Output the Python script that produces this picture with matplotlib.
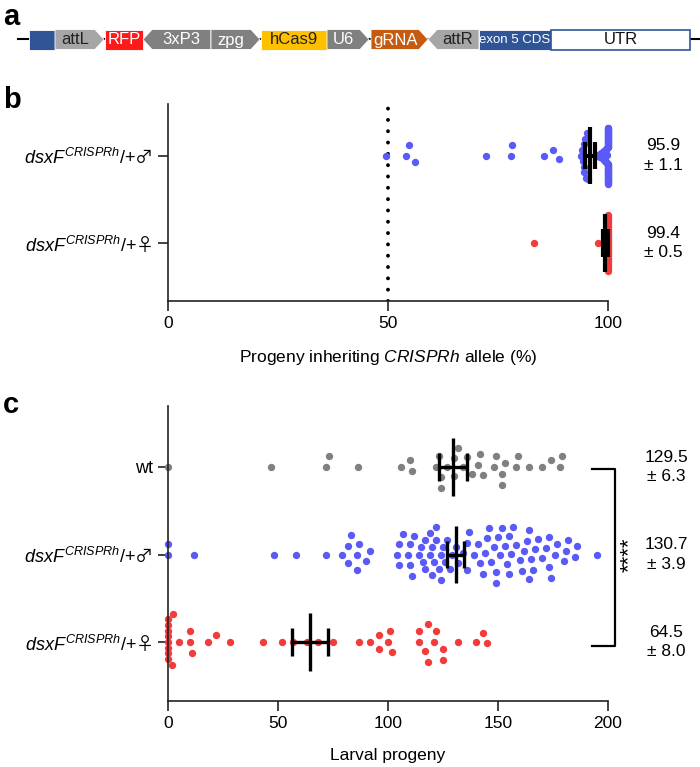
import numpy as np
import matplotlib.pyplot as plt
from matplotlib.patches import Polygon

plt.rcParams["font.family"] = ["Liberation Sans", "DejaVu Sans"]
plt.rcParams["mathtext.fontset"] = "custom"
plt.rcParams["mathtext.rm"] = "Liberation Sans"
plt.rcParams["mathtext.it"] = "Liberation Sans:italic"
plt.rcParams["mathtext.sf"] = "Noto Sans CJK JP"

# panel a: construct map (pixel extents along the line)
PART_NAMES = ["", "attL", "RFP", "3xP3", "zpg", "hCas9", "U6", "gRNA", "attR", "exon 5 CDS", "UTR"]
PART_STARTS = [29, 55, 105, 143, 211, 261, 327, 371, 428, 479, 551]
PART_ENDS = [55, 104, 143, 211, 260, 327, 369, 428, 479, 551, 690]
PART_DIRS = [0, 1, 0, -1, 1, 0, 1, 1, -1, 0, 0]
PART_COLORS = ["#2F5597", "#A6A6A6", "#FF1A1A", "#808080", "#808080", "#FFC000",
               "#808080", "#C55A11", "#A6A6A6", "#2F5597", "#FFFFFF"]
PART_TEXT_COLORS = ["white", "#222222", "white", "white", "white", "#222222",
                    "white", "white", "#222222", "white", "#111111"]

# panel b: progeny inheriting CRISPRh allele (%)
B_LABELS = [r"$\mathit{dsxF}^{\mathit{CRISPRh}}$/+$\mathsf{♂}$",
            r"$\mathit{dsxF}^{\mathit{CRISPRh}}$/+$\mathsf{♀}$"]
B_MALE = [49.5, 54.1, 54.8, 56.1, 72.2, 77.9, 78.2, 85.5, 87.6, 88.9,
          93.9, 94.2, 94.3, 94.5, 94.5, 94.6, 94.8, 95.0, 95.2, 95.5,
          97.5, 97.8, 98.0, 98.2, 98.4, 98.5, 98.6, 98.8, 99.0, 99.0, 99.1,
          99.2, 99.3, 99.4, 99.5, 99.5, 99.6, 99.7, 99.8, 99.8, 99.9, 99.9,
          100, 100, 100, 100, 100, 100, 100, 100, 100, 100, 100, 100,
          100, 100, 100, 100, 100, 100, 100, 100, 100, 100, 100, 100,
          100, 100, 100, 100, 100, 100, 100, 100, 100, 100, 100, 100,
          100, 100, 100, 100, 100, 100, 100, 100, 100, 100, 100, 100]
B_FEMALE = [83.2, 97.8,
            100, 100, 100, 100, 100, 100, 100, 100, 100, 100,
            100, 100, 100, 100, 100, 100, 100, 100, 100, 100,
            100, 100, 100, 100, 100, 100, 100, 100, 100, 100]
B_MEANS = [95.9, 99.4]
B_SEMS = [1.1, 0.5]

# panel c: larval progeny
C_LABELS = ["wt", r"$\mathit{dsxF}^{\mathit{CRISPRh}}$/+$\mathsf{♂}$",
            r"$\mathit{dsxF}^{\mathit{CRISPRh}}$/+$\mathsf{♀}$"]
C_WT = [0, 47, 72, 73, 86.5, 106, 110, 111, 122, 123, 124, 124, 127, 130, 130,
        132, 134, 136, 138, 141, 142, 143, 148, 149, 152, 152, 153, 158, 159,
        164, 170, 174, 178, 179]
C_MALE = [0, 0, 12, 48, 58, 72, 79, 82, 82, 83, 86, 86, 87, 90, 92,
          104, 105, 105, 107, 109, 110, 110, 111, 112, 114,
          115, 116, 117, 117, 119, 119, 120, 120, 121, 122,
          122, 123, 124, 124, 125, 126, 127, 128, 129, 131,
          132, 134, 136, 136, 137, 139, 141, 142, 143, 144,
          145, 146, 147, 148, 149, 149, 150, 151, 152, 153,
          154, 155, 155, 156, 157, 158, 160, 161, 162, 163,
          164, 164, 165, 166, 167, 168, 170, 172, 173, 173,
          174, 176, 177, 180, 181, 182, 185, 186, 195]
C_FEMALE = [0, 0, 0, 0, 0, 0, 0, 0, 2.0, 2.4, 5, 10, 10, 10.8, 18, 22, 28,
            43, 52, 57, 63, 68, 75, 87, 92, 96, 96, 100, 101, 102, 114, 114,
            117, 118, 118, 121, 122, 125, 125, 132, 140, 143, 145]
C_MEANS = [129.5, 130.7, 64.5]
C_SEMS = [6.3, 3.9, 8.0]

BLUE = "#5A5AF7"
RED = "#F23C3C"
GRAY = "#808080"
INK = "#222222"

W_PX, H_PX = 700, 767
fig = plt.figure(figsize=(W_PX / 100, H_PX / 100), dpi=100)


def px_axes(left, top, right, bottom):
    return fig.add_axes([left / W_PX, 1 - bottom / H_PX, (right - left) / W_PX, (bottom - top) / H_PX])


def swarm_offsets(xpix, diameter=11.0, limit=28.0):
    xpix = np.asarray(xpix, dtype=float)
    order = np.argsort(xpix, kind="stable")
    placed = []
    offsets = np.zeros(len(xpix))
    for i in order:
        x = xpix[i]
        cands = [0.0]
        for px, py in placed:
            dx = abs(px - x)
            if dx < diameter:
                dy = np.sqrt(diameter ** 2 - dx ** 2)
                cands += [py + dy, py - dy]
        cands.sort(key=abs)
        chosen = cands[-1]
        for c in cands:
            if all((px - x) ** 2 + (py - c) ** 2 >= diameter ** 2 - 1e-6 for px, py in placed):
                chosen = c
                break
        placed.append((x, chosen))
        offsets[i] = chosen
    # squash crowded stretches so the swarm stays inside +-limit pixels
    scaled = np.empty_like(offsets)
    for i, x in enumerate(xpix):
        near = np.abs(xpix - x) < 1.5 * diameter
        local = np.abs(offsets[near]).max()
        scaled[i] = offsets[i] * min(1.0, limit / local) if local > 0 else 0.0
    return scaled


def style_axes(ax):
    for side in ["top", "right"]:
        ax.spines[side].set_visible(False)
    for side in ["left", "bottom"]:
        ax.spines[side].set_linewidth(1.2)
        ax.spines[side].set_color(INK)
    ax.tick_params(axis="both", length=7, width=1.2, color=INK, labelsize=12.5, pad=4)
    ax.tick_params(axis="y", labelsize=13)


def draw_group(ax, values, ypos, color, px_per_x, px_per_y):
    xs = np.asarray(values, dtype=float)
    offs = swarm_offsets(xs * px_per_x)
    ax.scatter(xs, ypos + offs / px_per_y, s=28, color=color, linewidths=0, zorder=2, clip_on=False)


def draw_mean_sem(ax, mean, sem, ypos, lw):
    kw = dict(color="black", lw=lw, solid_capstyle="butt", zorder=4, clip_on=False)
    ax.plot([mean, mean], [ypos - 0.33, ypos + 0.33], **kw)
    ax.plot([mean - sem, mean + sem], [ypos, ypos], **kw)
    ax.plot([mean - sem, mean - sem], [ypos - 0.155, ypos + 0.155], **kw)
    ax.plot([mean + sem, mean + sem], [ypos - 0.155, ypos + 0.155], **kw)


# ---- panel a ----
ax_a = px_axes(0, 0, 700, 60)
ax_a.set_xlim(0, 700)
ax_a.set_ylim(60, 0)
ax_a.set_axis_off()
ax_a.plot([18, 700], [39, 39], color="black", lw=1.5, zorder=1)
top, bot, tip = 29.5, 49.5, 9
mid = (top + bot) / 2
for name, x0, x1, d, fc, tc in zip(PART_NAMES, PART_STARTS, PART_ENDS, PART_DIRS, PART_COLORS, PART_TEXT_COLORS):
    if d == 1:
        pts = [(x0, top), (x1 - tip, top), (x1, mid), (x1 - tip, bot), (x0, bot)]
        cx = (x0 + x1 - tip) / 2
    elif d == -1:
        pts = [(x0, mid), (x0 + tip, top), (x1, top), (x1, bot), (x0 + tip, bot)]
        cx = (x0 + tip + x1) / 2
    else:
        pts = [(x0, top), (x1, top), (x1, bot), (x0, bot)]
        cx = (x0 + x1) / 2
    ec = "#2F5597" if name == "UTR" else "white"
    ax_a.add_patch(Polygon(pts, closed=True, facecolor=fc, edgecolor=ec, lw=1.2 if name == "UTR" else 0.6, zorder=2))
    if name:
        ax_a.text(cx, mid + 0.5, name, ha="center", va="center", color=tc,
                  fontsize=9.5 if name == "exon 5 CDS" else 12, zorder=3)

# ---- panel b ----
ax_b = px_axes(168, 104, 608, 301)
ax_b.set_xlim(0, 100)
ax_b.set_ylim(-0.663, 1.589)
style_axes(ax_b)
bx = 440 / 100
by = 197 / (1.589 + 0.663)
ax_b.axvline(50, color="black", lw=2.8, ls=(0, (0.01, 2.9)), dash_capstyle="round", zorder=1)
for vals, ypos, col in [(B_MALE, 1, BLUE), (B_FEMALE, 0, RED)]:
    draw_group(ax_b, vals, ypos, col, bx, by)
for mean, sem, ypos in zip(B_MEANS, B_SEMS, [1, 0]):
    draw_mean_sem(ax_b, mean, sem, ypos, 3.0)
    ax_b.text(112.5, ypos, f"{mean:.1f}\n± {sem:.1f}", ha="center", va="center",
              fontsize=12.5, linespacing=1.35, clip_on=False)
ax_b.set_yticks([1, 0])
ax_b.set_yticklabels(B_LABELS)
ax_b.set_xticks([0, 50, 100])
ax_b.set_xlabel(r"Progeny inheriting $\mathit{CRISPRh}$ allele (%)", fontsize=12.5, labelpad=12)

# ---- panel c ----
ax_c = px_axes(168, 406, 608, 701)
ax_c.set_xlim(0, 200)
ax_c.set_ylim(-0.674, 2.697)
style_axes(ax_c)
cx_scale = 440 / 200
cy_scale = 295 / (2.697 + 0.674)
for vals, ypos, col in [(C_WT, 2, GRAY), (C_MALE, 1, BLUE), (C_FEMALE, 0, RED)]:
    draw_group(ax_c, vals, ypos, col, cx_scale, cy_scale)
for mean, sem, ypos in zip(C_MEANS, C_SEMS, [2, 1, 0]):
    draw_mean_sem(ax_c, mean, sem, ypos, 2.4)
    ax_c.text(226.5, ypos, f"{mean:.1f}\n± {sem:.1f}", ha="center", va="center",
              fontsize=12.5, linespacing=1.35, clip_on=False)
ax_c.plot([192.7, 203.2, 203.2, 192.7], [1.98, 1.98, -0.05, -0.05], color="black", lw=1.6, clip_on=False)
ax_c.text(209.5, 1.0, "****", rotation=90, ha="center", va="center", fontsize=16, clip_on=False)
ax_c.set_yticks([2, 1, 0])
ax_c.set_yticklabels(C_LABELS)
ax_c.set_xticks([0, 50, 100, 150, 200])
ax_c.set_xlabel("Larval progeny", fontsize=12.5, labelpad=12)

# panel letters
for letter, ypx in [("a", 17), ("b", 100), ("c", 405)]:
    fig.text(3 / W_PX, 1 - ypx / H_PX, letter, fontsize=21, fontweight="bold", va="center", ha="left")

fig.savefig("out.png", dpi=100)
